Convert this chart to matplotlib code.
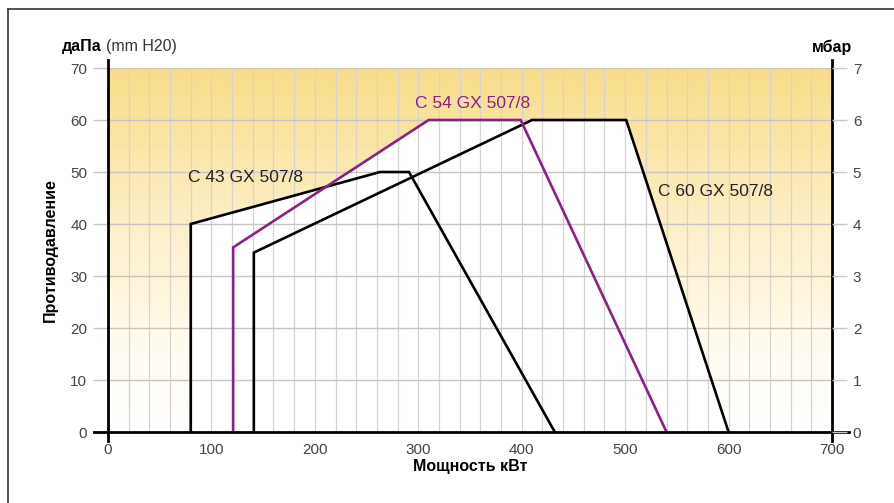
import numpy as np
import matplotlib.pyplot as plt
from matplotlib.colors import LinearSegmentedColormap
from matplotlib.lines import Line2D

plt.rcParams['font.family'] = ['Liberation Sans', 'DejaVu Sans']

# curves: power (kW) vs back pressure (daPa)
c43_x = [80, 80, 263, 291, 432]
c43_y = [0, 40, 50, 50, 0]
c54_x = [121, 121, 310, 399, 540]
c54_y = [0, 35.5, 60, 60, 0]
c60_x = [141, 141, 410, 501, 600]
c60_y = [0, 34.5, 60, 60, 0]

labels = ['C 43 GX 507/8', 'C 54 GX 507/8', 'C 60 GX 507/8']
xticks = [0, 100, 200, 300, 400, 500, 600, 700]
yticks = [0, 10, 20, 30, 40, 50, 60, 70]

fig = plt.figure(figsize=(8.95, 5.03), dpi=100)
ax = fig.add_axes([108/895, 71/503, 724/895, 364/503])

# yellow gradient background
cmap = LinearSegmentedColormap.from_list(
    'yel', [(0, '#ffffff'), (0.2, '#fffcf3'), (0.55, '#fcf0c8'), (1, '#f8de8a')])
grad = np.linspace(0, 1, 256).reshape(-1, 1)
ax.imshow(grad, extent=[0, 700, 0, 70], origin='lower', aspect='auto',
          cmap=cmap, zorder=0)

# white working fields
for xs, ys in [(c43_x, c43_y), (c54_x, c54_y), (c60_x, c60_y)]:
    ax.fill(xs, ys, color='white', zorder=1, lw=0)

# grid
for gx in range(20, 700, 20):
    ax.axvline(gx, color='#d6d3d0', lw=0.9, zorder=2)
for gy in yticks[1:]:
    ax.axhline(gy, color='#c8c5c2', lw=1.0, zorder=2)

ax.plot(c43_x, c43_y, color='black', lw=1.9, zorder=4, solid_joinstyle='miter')
ax.plot(c60_x, c60_y, color='black', lw=1.9, zorder=4, solid_joinstyle='miter')
ax.plot(c54_x, c54_y, color='#8e1f84', lw=1.9, zorder=5, solid_joinstyle='miter')

ax.text(77, 49, labels[0], fontsize=12.5, color='#222222', va='center', zorder=6)
ax.text(297, 63.1, labels[1], fontsize=12.5, color='#8e1f84', va='center', zorder=6)
ax.text(532, 46.3, labels[2], fontsize=12.5, color='#222222', va='center', zorder=6)

ax.set_xlim(0, 700)
ax.set_ylim(0, 70)
for s in ax.spines.values():
    s.set_visible(False)

# axis lines (extending past the plot area)
ax.add_line(Line2D([-14, 716], [0, 0], color='black', lw=2, clip_on=False, zorder=7))
ax.add_line(Line2D([0, 0], [-1.8, 71.6], color='black', lw=2, clip_on=False, zorder=7))
ax.add_line(Line2D([700, 700], [-1.8, 71.6], color='black', lw=2, clip_on=False, zorder=7))

ax.set_xticks(xticks)
ax.set_yticks(yticks)
ax.tick_params(axis='x', length=0, pad=8, labelsize=11, labelcolor='#444444')
ax.tick_params(axis='y', length=11, width=1, color='#c8c5c2', pad=4,
               labelsize=11, labelcolor='#444444')

ax2 = ax.twinx()
ax2.set_ylim(0, 7)
ax2.set_yticks(range(0, 8))
for s in ax2.spines.values():
    s.set_visible(False)
ax2.tick_params(axis='y', length=11, width=1, color='#c8c5c2', pad=4,
                labelsize=11, labelcolor='#444444')

ax.set_xlabel('Мощность кВт', fontsize=11.5, fontweight='bold', labelpad=1)
ax.set_ylabel('Противодавление', fontsize=11.5, fontweight='bold', labelpad=9)

fig.text(62/895, 1 - 47/503, 'даПа', fontsize=11.5, fontweight='bold', va='center')
fig.text(106/895, 1 - 47/503, '(mm H20)', fontsize=11.5, color='#333333', va='center')
fig.text(852/895, 1 - 47/503, 'мбар', fontsize=11.5, fontweight='bold', va='center', ha='right')

# frame around the picture
fig.add_artist(Line2D([8/895, 1], [1 - 9/503, 1 - 9/503], color='#333333', lw=1.2,
                      transform=fig.transFigure))
fig.add_artist(Line2D([8/895, 8/895], [0, 1 - 9/503], color='#333333', lw=1.2,
                      transform=fig.transFigure))

fig.savefig('out.png', dpi=100)
